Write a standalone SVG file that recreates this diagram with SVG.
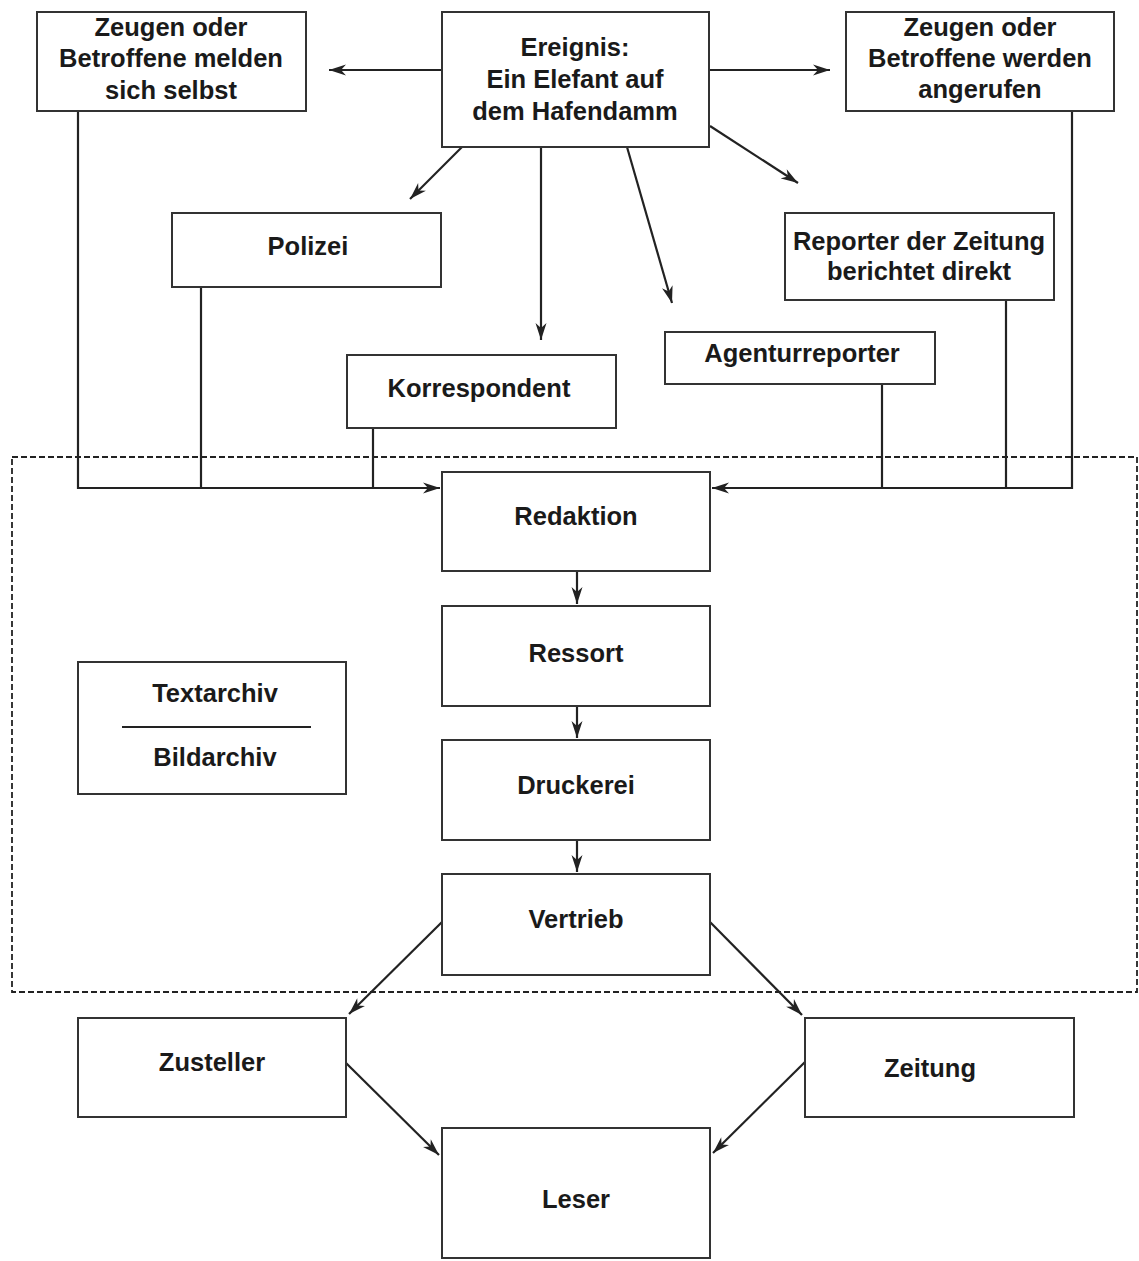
<svg xmlns="http://www.w3.org/2000/svg" width="1139" height="1261" viewBox="0 0 1139 1261">
<style>
.box{fill:#fff;stroke:#333;stroke-width:2}
.t{font-family:"Liberation Sans",Arial,sans-serif;font-weight:bold;font-size:25.5px;fill:#1a1a1a;text-anchor:middle}
.c{fill:none;stroke:#222;stroke-width:2.2}
.dash{fill:none;stroke:#222;stroke-width:1.8;stroke-dasharray:6 3}
</style>
<defs>
<marker id="ah" markerUnits="userSpaceOnUse" markerWidth="18" markerHeight="12" refX="17" refY="6" orient="auto">
<path d="M0,0.5 L17,6 L0,11.5 L5,6 z" fill="#222"/>
</marker>
</defs>
<rect width="1139" height="1261" fill="#fff"/>
<rect class="dash" x="12" y="457" width="1125" height="535"/>
<g id="connectors">
<path class="c" d="M441,70 L329,70" marker-end="url(#ah)"/>
<path class="c" d="M710,70 L830,70" marker-end="url(#ah)"/>
<path class="c" d="M462,147 L410,199" marker-end="url(#ah)"/>
<path class="c" d="M541,147 L541,340" marker-end="url(#ah)"/>
<path class="c" d="M627,147 L672,303" marker-end="url(#ah)"/>
<path class="c" d="M710,126 L798,183" marker-end="url(#ah)"/>
<path class="c" d="M78,111 L78,488 L440,488" marker-end="url(#ah)"/>
<path class="c" d="M201,287 L201,488"/>
<path class="c" d="M373,428 L373,488"/>
<path class="c" d="M1072,111 L1072,488 L712,488" marker-end="url(#ah)"/>
<path class="c" d="M1006,300 L1006,488"/>
<path class="c" d="M882,384 L882,488"/>
<path class="c" d="M577,571 L577,604" marker-end="url(#ah)"/>
<path class="c" d="M577,706 L577,738" marker-end="url(#ah)"/>
<path class="c" d="M577,840 L577,872" marker-end="url(#ah)"/>
<path class="c" d="M442,922 L349,1014" marker-end="url(#ah)"/>
<path class="c" d="M710,922 L802,1015" marker-end="url(#ah)"/>
<path class="c" d="M346,1063 L439,1155" marker-end="url(#ah)"/>
<path class="c" d="M805,1062 L713,1153" marker-end="url(#ah)"/>
</g>
<g id="zeugen-melden">
<rect class="box" x="37" y="12" width="269" height="99"/>
<text class="t" x="171" y="36">Zeugen oder</text>
<text class="t" x="171" y="67">Betroffene melden</text>
<text class="t" x="171" y="99">sich selbst</text>
</g>
<g id="ereignis">
<rect class="box" x="442" y="12" width="267" height="135"/>
<text class="t" x="575" y="56">Ereignis:</text>
<text class="t" x="575" y="88">Ein Elefant auf</text>
<text class="t" x="575" y="120">dem Hafendamm</text>
</g>
<g id="zeugen-angerufen">
<rect class="box" x="846" y="12" width="268" height="99"/>
<text class="t" x="980" y="36">Zeugen oder</text>
<text class="t" x="980" y="67">Betroffene werden</text>
<text class="t" x="980" y="98">angerufen</text>
</g>
<g id="polizei">
<rect class="box" x="172" y="213" width="269" height="74"/>
<text class="t" x="308" y="255">Polizei</text>
</g>
<g id="reporter">
<rect class="box" x="785" y="213" width="269" height="87"/>
<text class="t" x="919" y="250">Reporter der Zeitung</text>
<text class="t" x="919" y="280">berichtet direkt</text>
</g>
<g id="korrespondent">
<rect class="box" x="347" y="355" width="269" height="73"/>
<text class="t" x="479" y="397">Korrespondent</text>
</g>
<g id="agenturreporter">
<rect class="box" x="665" y="332" width="270" height="52"/>
<text class="t" x="802" y="362">Agenturreporter</text>
</g>
<g id="redaktion">
<rect class="box" x="442" y="472" width="268" height="99"/>
<text class="t" x="576" y="525">Redaktion</text>
</g>
<g id="ressort">
<rect class="box" x="442" y="606" width="268" height="100"/>
<text class="t" x="576" y="662">Ressort</text>
</g>
<g id="druckerei">
<rect class="box" x="442" y="740" width="268" height="100"/>
<text class="t" x="576" y="794">Druckerei</text>
</g>
<g id="vertrieb">
<rect class="box" x="442" y="874" width="268" height="101"/>
<text class="t" x="576" y="928">Vertrieb</text>
</g>
<g id="archiv">
<rect class="box" x="78" y="662" width="268" height="132"/>
<text class="t" x="215" y="702">Textarchiv</text>
<line x1="122" y1="727" x2="311" y2="727" stroke="#222" stroke-width="2"/>
<text class="t" x="215" y="766">Bildarchiv</text>
</g>
<g id="zusteller">
<rect class="box" x="78" y="1018" width="268" height="99"/>
<text class="t" x="212" y="1071">Zusteller</text>
</g>
<g id="zeitung">
<rect class="box" x="805" y="1018" width="269" height="99"/>
<text class="t" x="930" y="1077">Zeitung</text>
</g>
<g id="leser">
<rect class="box" x="442" y="1128" width="268" height="130"/>
<text class="t" x="576" y="1208">Leser</text>
</g>
</svg>
